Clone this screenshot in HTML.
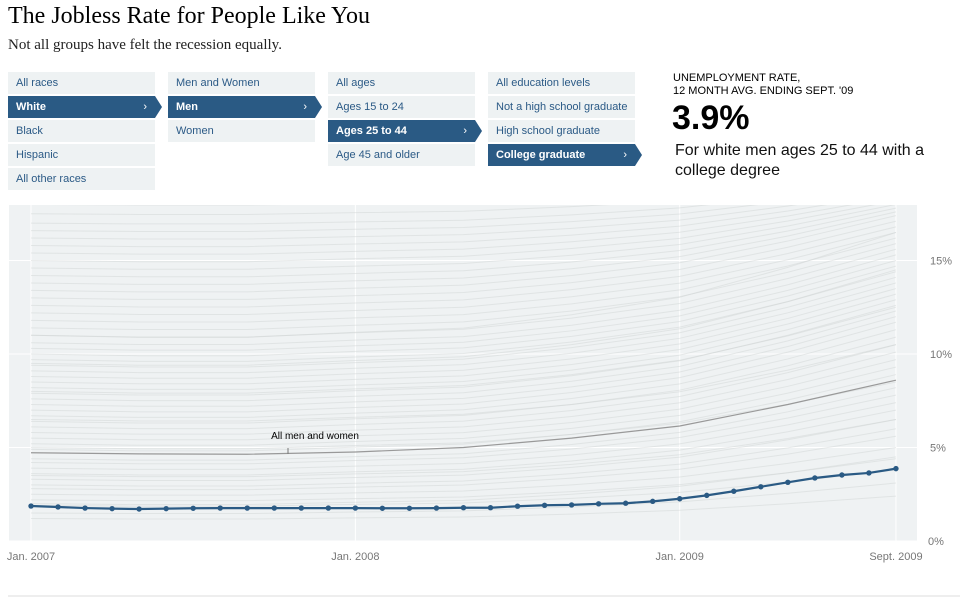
<!DOCTYPE html>
<html><head><meta charset="utf-8"><style>
body{margin:0;width:965px;height:601px;background:#fff;font-family:"Liberation Sans",sans-serif;position:relative;overflow:hidden}
.t{position:absolute;left:8px;top:3px;font-family:"Liberation Serif",serif;font-size:24px;color:#000}
.s{position:absolute;left:8px;top:37px;font-family:"Liberation Serif",serif;font-size:15px;color:#222}
.col{position:absolute;top:72px;width:147px}
.it{height:22px;line-height:22px;margin-bottom:2px;background:#eef2f3;color:#2b5a86;font-size:11px;padding-left:8px;position:relative}
.it.sel{background:#2a5a84;color:#fff;font-weight:bold}
.it.sel:after{content:"";position:absolute;right:-7px;top:0;border-left:7px solid #2a5a84;border-top:11px solid transparent;border-bottom:11px solid transparent}
.it.sel span{position:absolute;right:8px;font-weight:normal}
</style></head><body>
<div class="t">The Jobless Rate for People Like You</div>
<div class="s">Not all groups have felt the recession equally.</div>
<div class="col" style="left:8px">
<div class="it">All races</div>
<div class="it sel">White<span>›</span></div>
<div class="it">Black</div>
<div class="it">Hispanic</div>
<div class="it">All other races</div></div>
<div class="col" style="left:168px">
<div class="it">Men and Women</div>
<div class="it sel">Men<span>›</span></div>
<div class="it">Women</div></div>
<div class="col" style="left:328px">
<div class="it">All ages</div>
<div class="it">Ages 15 to 24</div>
<div class="it sel">Ages 25 to 44<span>›</span></div>
<div class="it">Age 45 and older</div></div>
<div class="col" style="left:488px">
<div class="it">All education levels</div>
<div class="it">Not a high school graduate</div>
<div class="it">High school graduate</div>
<div class="it sel">College graduate<span>›</span></div></div>
<div style="position:absolute;left:673px;top:72px;font-size:11px;line-height:13px;color:#000">UNEMPLOYMENT RATE,<br>12 MONTH AVG. ENDING SEPT. '09</div>
<div style="position:absolute;left:672px;top:99px;font-size:34px;font-weight:bold;color:#000">3.9%</div>
<div style="position:absolute;left:675px;top:141px;font-size:16px;line-height:20px;color:#111;width:270px">For white men ages 25 to 44 with a college degree</div>
<svg id="c" width="965" height="601" style="position:absolute;left:0;top:0"></svg>
<script>
const months=[0,1,2,3,4,5,6,7,8,9,10,11,12,13,14,15,16,17,18,19,20,21,22,23,24,25,26,27,28,29,30,31,32];
const selected=[1.87,1.82,1.76,1.73,1.71,1.73,1.75,1.76,1.76,1.76,1.76,1.76,1.76,1.75,1.75,1.76,1.78,1.78,1.86,1.91,1.93,1.99,2.02,2.12,2.26,2.44,2.66,2.90,3.14,3.37,3.53,3.64,3.87];
const allMonths=[0,4,8,12,16,20,24,28,32];
const allValues=[4.72,4.66,4.64,4.76,5.0,5.5,6.15,7.3,8.6];
const bgStart=[1.2,1.5,1.9,2.2,2.5,2.8,3.0,3.3,3.6,3.9,4.2,4.4,4.9,5.2,5.5,5.8,6.1,6.4,6.7,7.0,7.3,7.6,7.9,8.2,8.5,8.8,9.1,9.4,9.7,10.0,10.3,10.6,11.0,11.4,11.8,12.2,12.6,13.0,13.4,13.8,14.2,14.6,15.0,15.4,15.8,16.2,16.6,17.0,17.5,18.0,2.0,3.5,5.0,6.5,8.0,9.5,11.0];
const bgEnd=[2.4,3.1,3.8,4.4,5.0,5.6,6.0,6.5,7.0,7.4,7.8,8.2,8.9,9.3,9.7,10.1,10.5,10.9,11.3,11.7,12.0,12.3,12.6,12.9,13.2,13.5,13.8,14.1,14.4,14.7,15.0,15.3,15.6,15.9,16.2,16.5,16.8,17.1,17.4,17.6,17.8,18.0,18.2,18.4,18.6,18.8,19.0,19.2,19.4,19.6,4.5,6.5,8.5,10.5,12.5,14.5,16.5];
const riseShape=[0,-0.02,-0.02,0.03,0.07,0.2,0.37,0.66,1];
const yTicks=[0,5,10,15];
const xTickMonths=[0,12,24,32];
const xTickLabels=["Jan. 2007","Jan. 2008","Jan. 2009","Sept. 2009"];
const NS="http://www.w3.org/2000/svg";
const svg=document.getElementById('c');
const X=m=>31+m*27.03, Y=v=>541-v*18.7;
function mk(t,a){const e=document.createElementNS(NS,t);for(const k in a)e.setAttribute(k,a[k]);svg.appendChild(e);return e;}
const cp=document.createElementNS(NS,'clipPath');cp.setAttribute('id','cl');const cr=document.createElementNS(NS,'rect');
cr.setAttribute('x',9);cr.setAttribute('y',205);cr.setAttribute('width',908);cr.setAttribute('height',336);cp.appendChild(cr);svg.appendChild(cp);
const bg=mk('rect',{x:9,y:205,width:908,height:336,fill:'#eff2f3'});

yTicks.forEach(v=>{const l=mk('line',{x1:9,x2:917,y1:Y(v),y2:Y(v),stroke:'#fff','stroke-width':1});

if(v>0){const t=mk('text',{x:930,y:Y(v)+4,'font-size':11,fill:'#777'});t.textContent=v+'%';
}});
const z=mk('text',{x:928,y:545,'font-size':11,fill:'#777'});z.textContent='0%';

xTickMonths.forEach((m,i)=>{const l=mk('line',{x1:X(m),x2:X(m),y1:205,y2:541,stroke:'#fff','stroke-width':1});

const t=mk('text',{x:X(m),y:560,'font-size':11,fill:'#777','text-anchor':'middle'});t.textContent=xTickLabels[i];
});
bgStart.forEach((s,i)=>{const e=bgEnd[i];const d=allMonths.map((m,j)=>(j?'L':'M')+X(m)+','+Y(s+(e-s)*riseShape[j])).join('');
const p=mk('path',{d:d,fill:'none',stroke:'#cfd2d3','stroke-opacity':0.45,'stroke-width':1,'clip-path':'url(#cl)'});
});
const ap=mk('path',{d:allMonths.map((m,j)=>(j?'L':'M')+X(m)+','+Y(allValues[j])).join(''),fill:'none',stroke:'#999','stroke-width':1.2});

const at=mk('text',{x:315,y:439,'font-size':10,fill:'#000','text-anchor':'middle'});at.textContent='All men and women';

mk('line',{x1:288,x2:288,y1:448,y2:454,stroke:'#777'});
const sp=mk('path',{d:months.map((m,j)=>(j?'L':'M')+X(m)+','+Y(selected[j])).join(''),fill:'none',stroke:'#2a5a84','stroke-width':2.2});

months.forEach((m,j)=>{const c=mk('circle',{cx:X(m),cy:Y(selected[j]),r:2.7,fill:'#2a5a84'});
});
const f=mk('line',{x1:8,x2:960,y1:596,y2:596,stroke:'#ddd'});

</script></body></html>
